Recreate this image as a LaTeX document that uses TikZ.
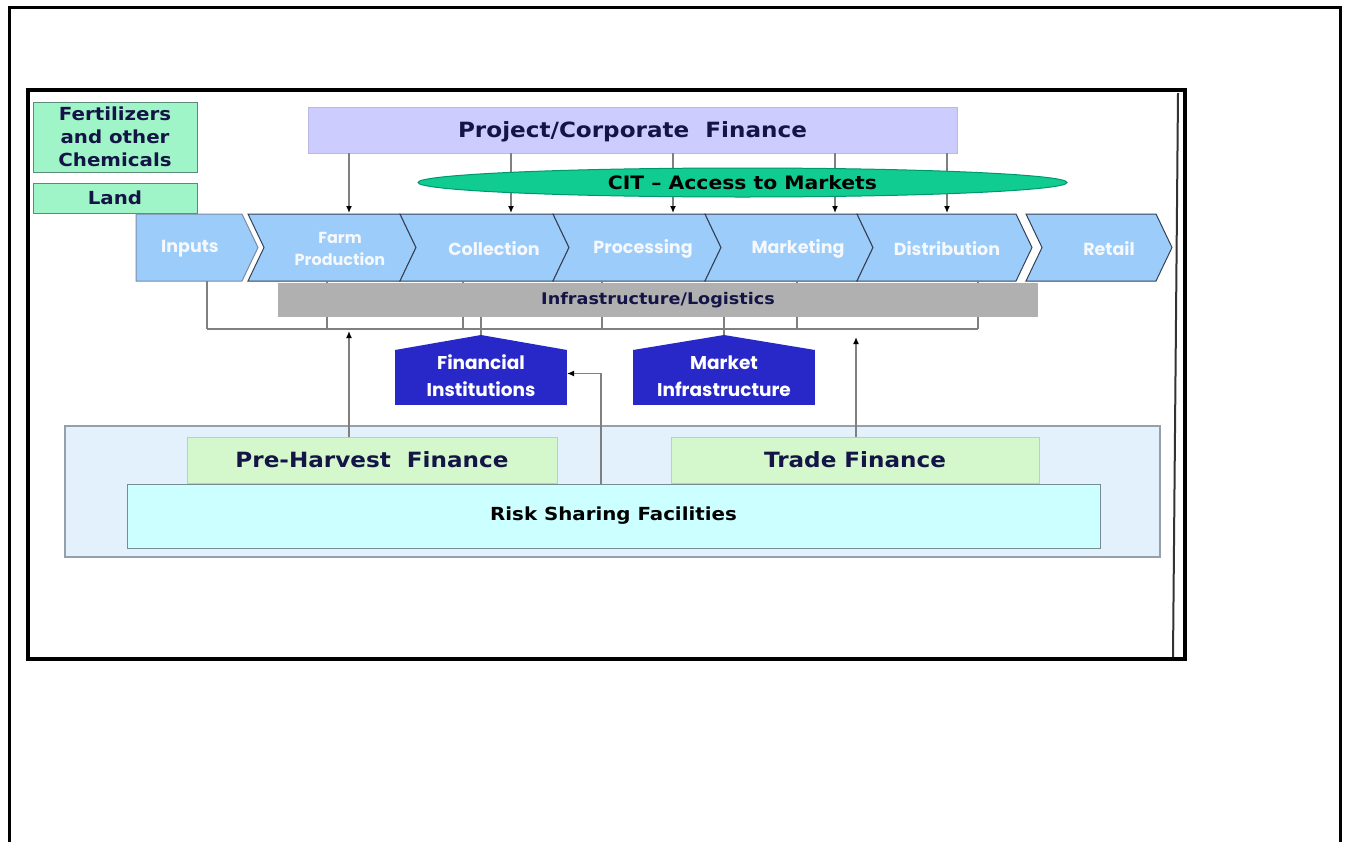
\documentclass[tikz,border=0pt]{standalone}
\usepackage{fontspec}
\setmainfont{DejaVu Sans}
\newfontfamily\verd{DejaVu Sans}[FakeStretch=1.1]
\newfontfamily\gothic{Poppins}
\usetikzlibrary{arrows.meta,shapes.geometric}
\definecolor{mint}{RGB}{160,245,200}
\definecolor{mintline}{RGB}{90,140,120}
\definecolor{lav}{RGB}{204,204,255}
\definecolor{lavline}{RGB}{185,185,225}
\definecolor{citgreen}{RGB}{16,204,144}
\definecolor{citline}{RGB}{0,150,110}
\definecolor{chevblue}{RGB}{155,204,250}
\definecolor{chevline}{RGB}{55,65,85}
\definecolor{inputline}{RGB}{120,140,165}
\definecolor{barg}{RGB}{176,176,176}
\definecolor{fiblue}{RGB}{40,40,200}
\definecolor{cont}{RGB}{226,241,252}
\definecolor{contline}{RGB}{150,160,170}
\definecolor{lgreen}{RGB}{212,248,204}
\definecolor{lgreenline}{RGB}{185,210,185}
\definecolor{cyanbox}{RGB}{204,255,255}
\definecolor{cyanline}{RGB}{120,140,150}
\definecolor{navy}{RGB}{20,20,70}
\definecolor{lgray}{RGB}{128,128,128}
\definecolor{chevtxt}{RGB}{245,248,252}
\begin{document}
\begin{tikzpicture}[x=1pt,y=-1pt,
  every node/.style={inner sep=0pt,outer sep=0pt},
  vfont/.style 2 args={font=\verd\bfseries\fontsize{#1}{#2}\selectfont},
  mintbox/.style={draw=mintline,line width=1pt,fill=mint,text=navy,align=center},
  lavbox/.style={draw=lavline,line width=1pt,fill=lav,text=navy},
  greenbox/.style={draw=lgreenline,line width=1pt,fill=lgreen,text=navy},
  chev/.style={fill=chevblue,draw=chevline,line width=1pt},
  chevtext/.style={text=chevtxt,font=\gothic\bfseries\fontsize{17.5}{22}\selectfont,align=center},
  housetext/.style={text=white,font=\gothic\bfseries\fontsize{18.5}{27}\selectfont,align=center},
  conn/.style={draw=lgray,line width=1.4pt},
  arr/.style={conn,-{Latex[length=7pt,width=6pt,color=black]}},
  frame/.style={draw=black,line width=3.5pt}]
\useasboundingbox (0,0) rectangle (1347,841);
% outer and inner frames
\draw[frame] (9.5,845) -- (9.5,7.5) -- (1340.5,7.5) -- (1340.5,845);
\draw[frame,line width=4pt] (27.5,90) rectangle (1184.5,659);
\draw[line width=2pt,black!80] (1178,93) -- (1173,657);

% left input boxes
\node[mintbox,vfont={18}{23},minimum width=164,minimum height=70] (fert) at (115,137) {Fertilizers\\and other\\Chemicals};
\node[mintbox,vfont={18}{23},minimum width=164,minimum height=30] (land) at (115,198) {Land};

% project / corporate finance
\node[lavbox,vfont={21}{25},text depth=0pt,minimum width=649,minimum height=46] (pcf) at (632.5,130) {Project/Corporate\ \ Finance};

% chevrons
\draw[chev,draw=inputline] (136,214) -- (242,214) -- (258,247.5) -- (242,281) -- (136,281) -- cycle;
\draw[chev] (248,214) -- (400,214) -- (416,247.5) -- (400,281) -- (248,281) -- (264,247.5) -- cycle;
\draw[chev] (400,214) -- (553,214) -- (569,247.5) -- (553,281) -- (400,281) -- (416,247.5) -- cycle;
\draw[chev] (553,214) -- (705,214) -- (721,247.5) -- (705,281) -- (553,281) -- (569,247.5) -- cycle;
\draw[chev] (705,214) -- (857,214) -- (873,247.5) -- (857,281) -- (705,281) -- (721,247.5) -- cycle;
\draw[chev] (857,214) -- (1016,214) -- (1032,247.5) -- (1016,281) -- (857,281) -- (873,247.5) -- cycle;
\draw[chev] (1026,214) -- (1156,214) -- (1172,247.5) -- (1156,281) -- (1026,281) -- (1042,247.5) -- cycle;
\node[chevtext] (inputs) at (190,249) {Inputs};
\node[chevtext,font=\gothic\bfseries\fontsize{16}{22}\selectfont] (farm) at (340,249) {Farm\\Production};
\node[chevtext] (coll) at (494,249) {Collection};
\node[chevtext] (proc) at (643,249) {Processing};
\node[chevtext] (mark) at (798,249) {Marketing};
\node[chevtext] (dist) at (947,249) {Distribution};
\node[chevtext] (retail) at (1109,249) {Retail};

% tops of the chevrons reached by the finance arrows
\coordinate (t1) at (349,213);
\coordinate (t2) at (511,213);
\coordinate (t3) at (673,213);
\coordinate (t4) at (835,213);
\coordinate (t5) at (947,213);
\foreach \t in {t1,t2,t3,t4,t5} \draw[arr] (pcf.south -| \t) -- (\t);

% CIT ellipse (covers the arrows)
\node[ellipse,draw=citline,line width=1pt,fill=citgreen,minimum width=649,minimum height=29,vfont={18.5}{22},text=black] (cit) at (742.5,182.5) {CIT – Access to Markets};

% bracket under the chain
\coordinate (b1) at (207,329);
\coordinate (b2) at (327,329);
\coordinate (b3) at (463,329);
\coordinate (b4) at (602,329);
\coordinate (b5) at (797,329);
\coordinate (b6) at (978,329);
\foreach \b in {b1,b2,b3,b4,b5,b6} \draw[conn] (\b |- 0,281) -- (\b);
\draw[conn] (b1) -- (b6);

% infrastructure bar
\node[fill=barg,minimum width=760,minimum height=34,vfont={16}{20},text=navy] (infra) at (658,300) {Infrastructure/Logistics};

% houses
\node[fill=fiblue,minimum width=172,minimum height=55] (fi) at (481,377.5) {};
\fill[fiblue] (fi.north west) -- ([yshift=15pt]fi.north) -- (fi.north east) -- cycle;
\node[housetext] (fitext) at (481,376) {Financial\\Institutions};
\node[fill=fiblue,minimum width=182,minimum height=55] (mi) at (724,377.5) {};
\fill[fiblue] (mi.north west) -- ([yshift=15pt]mi.north) -- (mi.north east) -- cycle;
\node[housetext] (mitext) at (724,376) {Market\\Infrastructure};
\draw[conn] (infra.south -| fi.north) -- ([yshift=15pt]fi.north);
\draw[conn] (infra.south -| mi.north) -- ([yshift=15pt]mi.north);

% finance container
\node[draw=contline,line width=1.2pt,fill=cont,minimum width=1095,minimum height=131] (cont) at (612.5,491.5) {};
\node[greenbox,vfont={21}{25},minimum width=370,minimum height=46] (pre) at (372,460) {Pre-Harvest\ \ Finance};
\node[greenbox,vfont={21}{25},minimum width=368,minimum height=46] (trade) at (855,460) {Trade Finance};
\node[draw=cyanline,line width=1pt,fill=cyanbox,vfont={18}{22},text=black,minimum width=973,minimum height=64] (risk) at (613.5,516) {Risk Sharing Facilities};

% arrows from finance up to the chain
\coordinate (pa) at (349,331);
\coordinate (ta) at (856,337);
\coordinate (rx) at (601,0);
\draw[arr] (pre.north -| pa) -- (pa);
\draw[arr] (trade.north -| ta) -- (ta);
\draw[arr] (risk.north -| rx) |- ([yshift=4pt]fi.east);
\end{tikzpicture}
\end{document}
